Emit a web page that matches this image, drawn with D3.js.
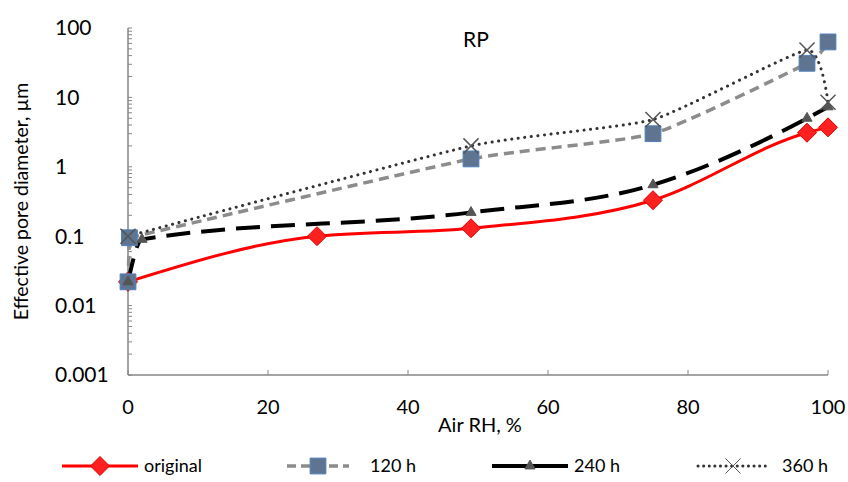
<!DOCTYPE html>
<html>
<head>
<meta charset="utf-8">
<script src="https://cdn.jsdelivr.net/npm/d3@7"></script>
<style>
  body { margin: 0; background: #fff; }
  text { font-family: Lato, "Open Sans", sans-serif; }
</style>
</head>
<body>
<div id="chart"></div>
<script>
// x = air RH (%), y = effective pore diameter (µm)
const seriesNames = ['original', '120 h', '240 h', '360 h'];
const originalX = [0, 27, 49, 75, 97, 100];
const originalY = [0.022, 0.1, 0.13, 0.33, 3.1, 3.7];
const h120X = [0, 0.2, 49, 75, 97, 100];
const h120Y = [0.022, 0.095, 1.3, 3, 31, 63];
const h240X = [0, 2, 49, 75, 97, 100];
const h240Y = [0.022, 0.09, 0.22, 0.55, 5, 7.3];
const h360X = [0, 49, 75, 97, 100];
const h360Y = [0.1, 2, 4.8, 48, 8.5];
const xTicks = [0, 20, 40, 60, 80, 100];
const yTicks = [0.001, 0.01, 0.1, 1, 10, 100];

const width = 848, height = 482;
const margin = {top: 28, right: 20, bottom: 107, left: 128};

const svg = d3.select('#chart').append('svg')
  .attr('width', width).attr('height', height);

const x = d3.scaleLinear().domain([0, 100]).range([margin.left, margin.left + 700]);
const y = d3.scaleLog().domain([0.001, 100]).range([height - margin.bottom, margin.top]);

// y axis with log minor ticks
const axisColor = '#868686';
const yAxis = svg.append('g');
yAxis.append('line')
  .attr('x1', x(0)).attr('x2', x(0))
  .attr('y1', y(0.001)).attr('y2', y(100))
  .attr('stroke', axisColor).attr('stroke-width', 1.5);
const minor = [];
yTicks.slice(0, -1).forEach(t => { for (let k = 1; k <= 9; k++) minor.push(t * k); });
minor.push(100);
yAxis.selectAll('line.minor').data(minor).join('line')
  .attr('class', 'minor')
  .attr('x1', x(0)).attr('x2', x(0) + 4)
  .attr('y1', d => y(d)).attr('y2', d => y(d))
  .attr('stroke', axisColor).attr('stroke-width', 1);
yAxis.selectAll('text').data(yTicks).join('text')
  .attr('x', 55).attr('y', d => y(d)).attr('dy', '0.35em')
  .attr('font-size', 21).attr('fill', '#000')
  .text(d => String(d));

// x axis
const xAxis = svg.append('g');
xAxis.append('line')
  .attr('x1', x(0)).attr('x2', x(100))
  .attr('y1', y(0.001)).attr('y2', y(0.001))
  .attr('stroke', axisColor).attr('stroke-width', 1.5);
xAxis.selectAll('line.tick').data(xTicks).join('line')
  .attr('class', 'tick')
  .attr('x1', d => x(d)).attr('x2', d => x(d))
  .attr('y1', y(0.001)).attr('y2', y(0.001) - 5)
  .attr('stroke', axisColor);
xAxis.selectAll('text').data(xTicks).join('text')
  .attr('x', d => x(d)).attr('y', 414)
  .attr('text-anchor', 'middle').attr('font-size', 20).attr('fill', '#000')
  .text(d => d);

svg.append('text').attr('x', 480).attr('y', 432).attr('text-anchor', 'middle')
  .attr('font-size', 20).text('Air RH, %');
svg.append('text')
  .attr('transform', `translate(28,${(y(0.001) + y(100)) / 2}) rotate(-90)`)
  .attr('text-anchor', 'middle').attr('font-size', 19.5)
  .text('Effective pore diameter, µm');
svg.append('text').attr('x', 476).attr('y', 47).attr('text-anchor', 'middle')
  .attr('font-size', 21).text('RP');

// series
const styles = [
  {color: '#ff0000', width: 3, dash: null, marker: 'diamond', fill: '#ff2020', stroke: '#e00000'},
  {color: '#8c8c8c', width: 3.5, dash: '10,6', marker: 'square', fill: '#5e7490', stroke: '#4f81bd'},
  {color: '#000000', width: 4, dash: '24,11', marker: 'triangle', fill: '#555', stroke: '#555'},
  {color: '#333333', width: 3, dash: '0.1,6.5', marker: 'cross', fill: 'none', stroke: '#555'}
];
const data = [
  d3.zip(originalX, originalY),
  d3.zip(h120X, h120Y),
  d3.zip(h240X, h240Y),
  d3.zip(h360X, h360Y)
];

const symbols = {
  diamond: d3.symbol().type(d3.symbolDiamond2).size(230),
  square: d3.symbol().type(d3.symbolSquare).size(250),
  triangle: d3.symbol().type(d3.symbolTriangle).size(45),
  cross: d3.symbol().type(d3.symbolTimes).size(150)
};

const monotone = d3.line().x(d => x(d[0])).y(d => y(d[1])).curve(d3.curveMonotoneX);
const cardinal = d3.line().x(d => x(d[0])).y(d => y(d[1])).curve(d3.curveCardinal.tension(0.5));
const straight = d3.line().x(d => x(d[0])).y(d => y(d[1]));
const lineFor = [monotone, cardinal, monotone, cardinal];

const plot = svg.append('g');
data.forEach((pts, i) => {
  const s = styles[i];
  // 120 h starts with a vertical jump at x = 0: draw that part straight
  const parts = i === 1 ? [[straight, pts.slice(0, 2)], [lineFor[i], pts.slice(1)]] : [[lineFor[i], pts]];
  parts.forEach(([gen, p]) => {
    plot.append('path').datum(p)
      .attr('d', gen).attr('fill', 'none')
      .attr('stroke', s.color).attr('stroke-width', s.width)
      .attr('stroke-dasharray', s.dash)
      .attr('stroke-linecap', i === 3 ? 'round' : 'butt');
  });
});
data.forEach((pts, i) => {
  const s = styles[i];
  plot.selectAll(null).data(pts).join('path')
    .attr('transform', d => `translate(${x(d[0])},${y(d[1])})`)
    .attr('d', symbols[s.marker])
    .attr('fill', s.fill).attr('stroke', s.stroke)
    .attr('stroke-width', s.marker === 'cross' ? 1.5 : 1);
});

// legend
const legendItems = [
  {x0: 62, len: 76, gap: 6},
  {x0: 287, len: 62, gap: 21},
  {x0: 492, len: 76, gap: 6},
  {x0: 698, len: 70, gap: 14}
];
const legendY = 466;
const legend = svg.append('g');
seriesNames.forEach((name, i) => {
  const s = styles[i];
  const it = legendItems[i];
  const g = legend.append('g').attr('transform', `translate(${it.x0},${legendY})`);
  g.append('line').attr('x1', 0).attr('x2', it.len).attr('y1', 0).attr('y2', 0)
    .attr('stroke', s.color).attr('stroke-width', s.width)
    .attr('stroke-dasharray', i === 1 ? '9,5' : (i === 3 ? '0.1,5.5' : null))
    .attr('stroke-linecap', i === 3 ? 'round' : 'butt');
  g.append('path').attr('transform', `translate(${it.len / 2},0)`)
    .attr('d', symbols[s.marker])
    .attr('fill', s.fill).attr('stroke', s.stroke);
  g.append('text').attr('x', it.len + it.gap).attr('y', 0).attr('dy', '0.35em')
    .attr('font-size', 18).text(name);
});
</script>
</body>
</html>
